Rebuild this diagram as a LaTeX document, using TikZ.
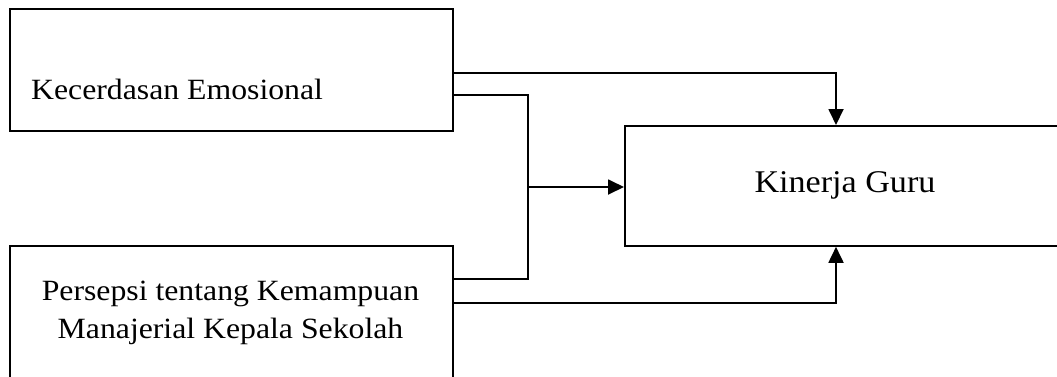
\documentclass[tikz,border=0pt]{standalone}
\usepackage{fontspec}
\setmainfont{Liberation Serif}[FakeStretch=1.08]
\usetikzlibrary{arrows.meta}

\tikzset{
  box/.style={draw=black, line width=1.8pt, rectangle, anchor=north west, inner sep=0pt},
  link/.style={draw=black, line width=1.8pt},
  arrowlink/.style={link, -{Triangle[length=16pt, width=15pt]}},
  lbl/.style={inner sep=0pt, font=\fontsize{29.4}{37.3}\selectfont},
}

\begin{document}
\begin{tikzpicture}[x=1pt, y=-1pt]
  \useasboundingbox (0,0) rectangle (1057,376);
  \clip (0,0) rectangle (1057,376);

  % input boxes
  \node[box, minimum width=443pt, minimum height=122pt] (ke) at (9,8) {};
  \node[box, minimum width=443pt, minimum height=160pt] (pk) at (9,245) {};
  % output box (runs past the right edge)
  \node[box, minimum width=480pt, minimum height=120pt] (kg) at (624,125) {};

  % labels
  \node[lbl, anchor=base west] (tke) at (31,99) {Kecerdasan Emosional};
  \node[lbl, anchor=base, align=center] (tpk) at (230.5,338)
    {Persepsi tentang Kemampuan\\Manajerial Kepala Sekolah};
  \node[inner sep=0pt, font=\fontsize{31.6}{35}\selectfont, anchor=base] (tkg) at (845,192) {Kinerja Guru};

  % junction points
  \coordinate (j1) at (528,95);
  \coordinate (j2) at (528,279);
  \coordinate (jm) at (528,187);

  % connectors
  \draw[arrowlink] (ke.north east |- 0,73) -| (kg.north west -| 836,0);
  \draw[link] (ke.north east |- j1) -- (j1) -- (j2) -- (pk.north east |- j2);
  \draw[arrowlink] (jm) -- (kg.north west |- jm);
  \draw[arrowlink] (pk.north east |- 0,303) -| (kg.south west -| 836,0);
\end{tikzpicture}
\end{document}
